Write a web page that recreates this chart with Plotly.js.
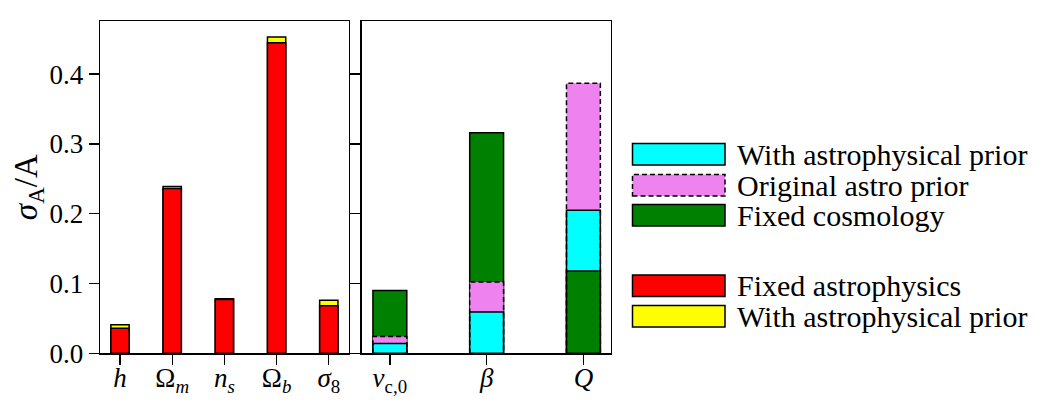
<!DOCTYPE html>
<html>
<head>
<meta charset="utf-8">
<script src="https://cdn.plot.ly/plotly-3.0.1.min.js"></script>
<style>
  html, body { margin: 0; padding: 0; background: #fff; }
  #myDiv { width: 1052px; height: 408px; }
</style>
</head>
<body>
<div id="myDiv"></div>
<script>
// cosmological parameters (left panel)
var cosmoLabels = ['<i>h</i>', 'Ω<sub><i>m</i></sub>', '<i>n</i><sub><i>s</i></sub>', 'Ω<sub><i>b</i></sub>', '<i>σ</i><sub>8</sub>'];
var fixedAstro = [0.036, 0.236, 0.077, 0.445, 0.068];
var cosmoWithPrior = [0.041, 0.239, 0.078, 0.453, 0.076];

// astrophysical parameters (right panel)
var astroLabels = ['<i>v</i><sub>c,0</sub>', '<i>β</i>', '<i>Q</i>'];
var astroWithPrior = [0.014, 0.059, 0.205];
var originalPrior = [0.024, 0.102, 0.387];
var fixedCosmo = [0.090, 0.316, 0.118];

var yTicks = [0.0, 0.1, 0.2, 0.3, 0.4];

var W = 1052, H = 408;
var barW = 0.35;
var FONT = 'Liberation Serif';

function idx(arr) { return arr.map(function (d, i) { return i; }); }

// overlay bars: in each category the biggest one goes at the back
function overlayBars(n, series, xa, ya) {
  var traces = [];
  for (var i = 0; i < n; i++) {
    var order = series.slice().sort(function (a, b) { return b.vals[i] - a.vals[i]; });
    order.forEach(function (s) {
      traces.push({
        type: 'bar', x: [i], y: [s.vals[i]], width: barW,
        xaxis: xa, yaxis: ya,
        marker: { color: s.color, line: { color: 'black', width: s.dashed ? 0 : 1.5 } },
        showlegend: false, hoverinfo: 'skip'
      });
    });
  }
  return traces;
}

// dashed outline for the original prior bars
function dashedOutline(vals, xa, ya) {
  var xs = [], ys = [];
  vals.forEach(function (v, i) {
    xs.push(i - barW / 2, i - barW / 2, i + barW / 2, i + barW / 2, null);
    ys.push(0, v, v, 0, null);
  });
  return {
    type: 'scatter', mode: 'lines', x: xs, y: ys, xaxis: xa, yaxis: ya,
    line: { color: 'black', width: 1.5, dash: '5px,3px' },
    showlegend: false, hoverinfo: 'skip'
  };
}

var left = overlayBars(cosmoLabels.length, [
  { vals: fixedAstro, color: '#ff0000' },
  { vals: cosmoWithPrior, color: '#ffff00' }
], 'x', 'y');

var right = overlayBars(astroLabels.length, [
  { vals: astroWithPrior, color: '#00ffff' },
  { vals: originalPrior, color: '#ee82ee', dashed: true },
  { vals: fixedCosmo, color: '#008000' }
], 'x2', 'y2');

var data = left.concat(right).concat([dashedOutline(originalPrior, 'x2', 'y2')]);

// legend drawn by hand so the swatches are wide like the original
var legendItems = [
  { top: 143.5, color: '#00ffff', text: 'With astrophysical prior' },
  { top: 174.5, color: '#ee82ee', text: 'Original astro prior', dashed: true },
  { top: 204.5, color: '#008000', text: 'Fixed cosmology' },
  { top: 275, color: '#ff0000', text: 'Fixed astrophysics' },
  { top: 305.5, color: '#ffff00', text: 'With astrophysical prior' }
];
var swH = 21.5;
var shapes = [], annotations = [];
legendItems.forEach(function (it) {
  shapes.push({
    type: 'rect', xref: 'paper', yref: 'paper',
    x0: 632.5 / W, x1: 725 / W, y0: 1 - (it.top + swH) / H, y1: 1 - it.top / H,
    fillcolor: it.color,
    line: { color: 'black', width: 1.5, dash: it.dashed ? '5px,3px' : 'solid' }
  });
  annotations.push({
    xref: 'paper', yref: 'paper', x: 735 / W, y: 1 - (it.top + swH / 2) / H,
    xanchor: 'left', yanchor: 'middle', showarrow: false,
    text: it.text, font: { size: 30, family: FONT, color: 'black' }
  });
});

var yDom = [1 - 353.3 / H, 1 - 21 / H];
var axisCommon = {
  showline: true, mirror: true, linecolor: 'black', linewidth: 1.3,
  ticks: 'outside', ticklen: 10, tickwidth: 1.3, tickcolor: 'black',
  showgrid: false, zeroline: false, tickfont: { size: 27, family: FONT, color: 'black' }
};

var layout = {
  width: W, height: H,
  margin: { l: 0, r: 0, t: 0, b: 0 },
  paper_bgcolor: 'white', plot_bgcolor: 'white',
  font: { family: FONT, color: 'black' },
  barmode: 'overlay',
  showlegend: false,
  xaxis: Object.assign({}, axisCommon, {
    domain: [100 / W, 349 / W], range: [-0.383, 4.387], anchor: 'y',
    tickmode: 'array', tickvals: idx(cosmoLabels), ticktext: cosmoLabels,
    ticklabelstandoff: -10
  }),
  yaxis: Object.assign({}, axisCommon, {
    domain: yDom, range: [0, 0.476], anchor: 'x',
    tickmode: 'array', tickvals: yTicks, ticktext: yTicks.map(function (v) { return v.toFixed(1); }),
    title: { text: '<i>σ</i><sub>A</sub>/A', font: { size: 33, family: FONT }, standoff: 2 }
  }),
  xaxis2: Object.assign({}, axisCommon, {
    domain: [361.5 / W, 611 / W], range: [-0.293, 2.285], anchor: 'y2',
    tickmode: 'array', tickvals: idx(astroLabels), ticktext: astroLabels,
    ticklabelstandoff: -10
  }),
  yaxis2: Object.assign({}, axisCommon, {
    domain: yDom, range: [0, 0.476], anchor: 'x2',
    tickmode: 'array', tickvals: yTicks, showticklabels: false
  }),
  shapes: shapes,
  annotations: annotations
};

Plotly.newPlot('myDiv', data, layout, { staticPlot: true });
</script>
</body>
</html>
